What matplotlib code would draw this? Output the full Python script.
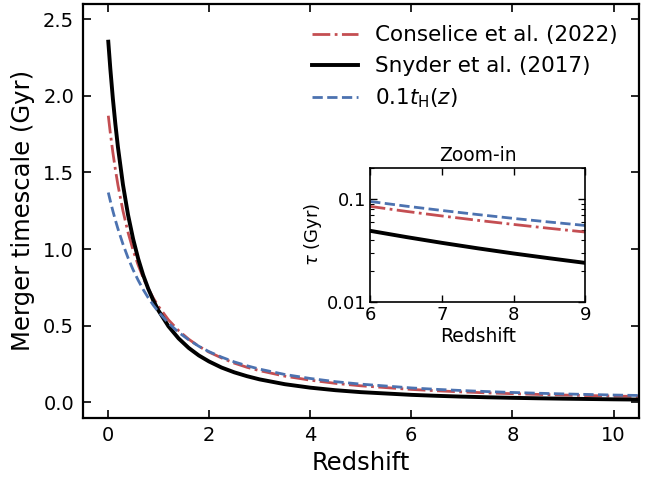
import numpy as np
import matplotlib
matplotlib.use("Agg")
import matplotlib.pyplot as plt

# merger timescales (Gyr)
redshift = [0.01, 0.05, 0.1, 0.15, 0.2, 0.3, 0.4, 0.5, 0.6, 0.7, 0.8, 0.9, 1.0,
            1.2, 1.4, 1.6, 1.8, 2.0, 2.25, 2.5, 2.75, 3.0, 3.5, 4.0, 4.5, 5.0,
            6.0, 6.5, 7.0, 7.5, 8.0, 8.5, 9.0, 10.0, 11.0]
conselice = [1.870, 1.757, 1.631, 1.519, 1.419, 1.249, 1.109, 0.993, 0.896,
             0.813, 0.742, 0.680, 0.627, 0.538, 0.468, 0.412, 0.366, 0.328,
             0.290, 0.256, 0.229, 0.207, 0.171, 0.145, 0.124, 0.108, 0.0844,
             0.0756, 0.0682, 0.0619, 0.0565, 0.0518, 0.0477, 0.0410, 0.0356]
snyder = [2.353, 2.177, 1.983, 1.815, 1.667, 1.420, 1.224, 1.067, 0.938,
          0.830, 0.741, 0.665, 0.600, 0.496, 0.417, 0.355, 0.306, 0.267,
          0.227, 0.196, 0.171, 0.150, 0.1185, 0.096, 0.0793, 0.0667, 0.0490,
          0.0427, 0.0375, 0.0332, 0.0296, 0.0266, 0.0240, 0.0198, 0.0167]
hubble = [1.369, 1.314, 1.249, 1.189, 1.133, 1.032, 0.943, 0.865, 0.797,
          0.736, 0.682, 0.634, 0.591, 0.517, 0.457, 0.408, 0.366, 0.331,
          0.295, 0.264, 0.239, 0.217, 0.182, 0.156, 0.135, 0.119, 0.0942,
          0.0849, 0.0771, 0.0704, 0.0646, 0.0596, 0.0552, 0.0478, 0.0420]

red = "#C44E52"
blue = "#4C72B0"

def draw(ax):
    ax.plot(redshift, conselice, "-.", color=red, lw=2.0,
            label="Conselice et al. (2022)")
    ax.plot(redshift, snyder, "-", color="black", lw=2.8,
            label="Snyder et al. (2017)")
    ax.plot(redshift, hubble, "--", color=blue, lw=2.0,
            label=r"$0.1t_{\rm H}(z)$")

fig = plt.figure(figsize=(6.6, 4.79), dpi=100)
ax = fig.add_axes([0.125, 0.128, 0.843, 0.864])
draw(ax)
ax.set_xlim(-0.5, 10.5)
ax.set_ylim(-0.1, 2.6)
ax.set_xticks([0, 2, 4, 6, 8, 10])
ax.set_yticks([0.0, 0.5, 1.0, 1.5, 2.0, 2.5])
ax.tick_params(direction="in", top=True, right=True, length=6, width=1.2,
               labelsize=14, pad=6)
for s in ax.spines.values():
    s.set_linewidth(1.6)
ax.set_xlabel("Redshift", fontsize=17.5, labelpad=4)
ax.set_ylabel("Merger timescale (Gyr)", fontsize=17.5, labelpad=6)
ax.legend(loc="upper right", frameon=False, fontsize=15.5, handlelength=2.1,
          borderaxespad=0.6, labelspacing=0.5)

# zoom-in inset
ins = fig.add_axes([0.561, 0.369, 0.326, 0.281])
draw(ins)
ins.set_yscale("log")
ins.set_xlim(6, 9)
ins.set_ylim(0.01, 0.2)
ins.set_xticks([6, 7, 8, 9])
ins.set_yticks([0.01, 0.1])
ins.set_yticklabels(["0.01", "0.1"])
ins.yaxis.set_minor_formatter(matplotlib.ticker.NullFormatter())
ins.tick_params(which="both", direction="in", top=True, right=True,
                labelsize=13, pad=3)
ins.tick_params(which="major", length=5, width=1.0)
ins.tick_params(which="minor", length=3, width=0.8)
for s in ins.spines.values():
    s.set_linewidth(1.2)
ins.set_title("Zoom-in", fontsize=13.5, pad=5)
ins.set_xlabel("Redshift", fontsize=13.5, labelpad=2)
ins.set_ylabel(r"$\tau$ (Gyr)", fontsize=13, labelpad=2)

fig.savefig("out.png", dpi=100)
